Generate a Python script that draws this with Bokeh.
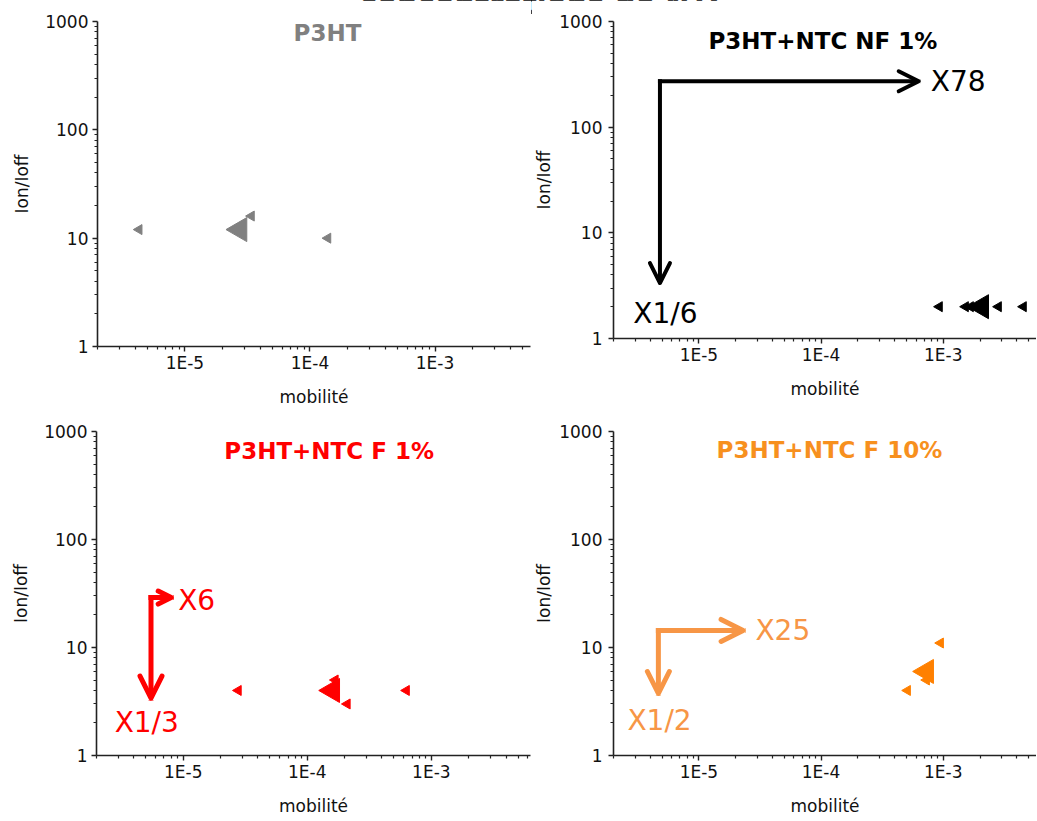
import numpy as np
from bokeh.plotting import figure
from bokeh.models import FixedTicker, Arrow, OpenHead, Label, Div, Range1d
from bokeh.layouts import row, column
from bokeh.embed import file_html
from bokeh.resources import INLINE

FONT = "DejaVu Sans"

# ---------------- data ----------------
main_title = "concentrations de NTC"
x_axis_title = "mobilité"
y_axis_title = "Ion/Ioff"
x_tick_values = [1e-5, 1e-4, 1e-3]
x_tick_labels = ["1E-5", "1E-4", "1E-3"]
y_tick_values = [1, 10, 100, 1000]
y_tick_labels = ["1", "10", "100", "1000"]

panel_titles = ["P3HT", "P3HT+NTC NF 1%", "P3HT+NTC F 1%", "P3HT+NTC F 10%"]

# P3HT
p3ht_mobility = [4.3e-6, 3.4e-5, 1.39e-4]
p3ht_ratio = [12, 16, 10]
p3ht_mean_mobility = [2.75e-5]
p3ht_mean_ratio = [12]

# P3HT+NTC NF 1%
nf1_mobility = [9.3e-4, 1.52e-3, 1.67e-3, 2.83e-3, 4.53e-3]
nf1_ratio = [2, 2, 2, 2, 2]
nf1_mean_mobility = [2.06e-3]
nf1_mean_ratio = [2]
nf1_factors = ["X78", "X1/6"]

# P3HT+NTC F 1%
f1_mobility = [2.78e-5, 1.68e-4, 2.1e-4, 6.3e-4]
f1_ratio = [4, 5, 3, 4]
f1_mean_mobility = [1.6e-4]
f1_mean_ratio = [4]
f1_factors = ["X6", "X1/3"]

# P3HT+NTC F 10%
f10_mobility = [5.1e-4, 7.3e-4, 9.5e-4]
f10_ratio = [4, 5, 11]
f10_mean_mobility = [7.3e-4]
f10_mean_ratio = [6]
f10_factors = ["X25", "X1/2"]

GRAY = "#808080"
BLACK = "#000000"
RED = "#FF0000"
ORANGE = "#FF8000"
ORANGE_TITLE = "#F7901E"
ORANGE_ARROW = "#F79646"


def make_panel(width, height, x_end, mb_left, mb_right, mb_top, mb_bottom,
               ylab_standoff, ytick_standoff):
    p = figure(width=width, height=height, x_axis_type="log", y_axis_type="log",
               x_range=Range1d(2e-6, x_end), y_range=Range1d(1, 1000),
               output_backend="svg", toolbar_location=None,
               min_border_left=mb_left, min_border_right=mb_right,
               min_border_top=mb_top, min_border_bottom=mb_bottom,
               background_fill_color="white", border_fill_color="white")
    p.frame_align = False
    p.outline_line_color = None
    p.xgrid.visible = False
    p.ygrid.visible = False

    x_minor = [m * 10.0 ** e for e in range(-6, -2) for m in range(2, 10)
               if 2e-6 <= m * 10.0 ** e <= x_end]
    y_minor = [m * 10.0 ** e for e in range(0, 3) for m in range(2, 10)]
    p.xaxis.ticker = FixedTicker(ticks=x_tick_values, minor_ticks=x_minor)
    p.yaxis.ticker = FixedTicker(ticks=y_tick_values, minor_ticks=y_minor)
    p.xaxis.major_label_overrides = dict(zip(x_tick_values, x_tick_labels))
    p.yaxis.major_label_overrides = dict(zip(y_tick_values, y_tick_labels))
    p.xaxis.axis_label = x_axis_title
    p.yaxis.axis_label = y_axis_title

    for ax in (p.xaxis[0], p.yaxis[0]):
        ax.axis_line_color = "#222222"
        ax.axis_line_width = 1.6
        ax.major_tick_line_color = "#222222"
        ax.major_tick_line_width = 1.4
        ax.minor_tick_line_color = "#222222"
        ax.minor_tick_line_width = 1.2
        ax.major_tick_out = 5
        ax.major_tick_in = 0
        ax.minor_tick_out = 3
        ax.minor_tick_in = 0
        ax.major_label_text_font = FONT
        ax.major_label_text_font_size = "17px"
        ax.major_label_text_color = "#111111"
        ax.axis_label_text_font = FONT
        ax.axis_label_text_font_size = "17px"
        ax.axis_label_text_font_style = "normal"
        ax.axis_label_text_color = "#111111"
    p.xaxis.major_label_standoff = 1
    p.xaxis.axis_label_standoff = 11
    p.yaxis.major_label_standoff = ytick_standoff
    p.yaxis.axis_label_standoff = ylab_standoff
    return p


def add_points(p, xs, ys, mx, my, color):
    p.scatter(xs, ys, marker="triangle", angle=np.pi / 2, size=10,
              fill_color=color, line_color=color)
    p.scatter(mx, my, marker="triangle", angle=np.pi / 2, size=24,
              fill_color=color, line_color=color)


def add_title(p, x, y, text, color):
    p.add_layout(Label(x=x, y=y, text=text, text_align="center", text_baseline="middle",
                       text_font=FONT, text_font_style="bold", text_font_size="23px",
                       text_color=color))


def add_arrow(p, x0, y0, x1, y1, color, lw, head):
    p.add_layout(Arrow(x_start=x0, y_start=y0, x_end=x1, y_end=y1,
                       line_color=color, line_width=lw, line_cap="square",
                       end=OpenHead(size=head, line_color=color, line_width=lw,
                                    line_cap="round", line_join="round")))


def add_text(p, x, y, text, color):
    p.add_layout(Label(x=x, y=y, text=text, text_align="left", text_baseline="middle",
                       text_font=FONT, text_font_size="28px", text_color=color))


# top-left: P3HT
p1 = make_panel(531, 412, 5.8e-3, 97, 1, 21, 66, 10, 4)
add_points(p1, p3ht_mobility, p3ht_ratio, p3ht_mean_mobility, p3ht_mean_ratio, GRAY)
add_title(p1, 1.38e-4, 790, panel_titles[0], GRAY)

# top-right: NF 1%
p2 = make_panel(505, 412, 5.8e-3, 81, 0, 21, 74, 2, 6)
add_points(p2, nf1_mobility, nf1_ratio, nf1_mean_mobility, nf1_mean_ratio, BLACK)
add_title(p2, 1.035e-4, 660, panel_titles[1], BLACK)
add_arrow(p2, 4.8e-6, 272, 6.3e-4, 272, BLACK, 4, 20)
add_arrow(p2, 4.8e-6, 272, 4.8e-6, 3.35, BLACK, 4, 20)
add_text(p2, 7.9e-4, 272, nf1_factors[0], BLACK)
add_text(p2, 2.9e-6, 1.72, nf1_factors[1], BLACK)

# bottom-left: F 1%
p3 = make_panel(531, 408, 6.3e-3, 96, 1, 19, 65, 10, 4)
add_points(p3, f1_mobility, f1_ratio, f1_mean_mobility, f1_mean_ratio, RED)
add_title(p3, 1.5e-4, 653, panel_titles[2], RED)
add_arrow(p3, 5.5e-6, 29, 5.5e-6, 3.4, RED, 5, 22)
add_arrow(p3, 5.5e-6, 29, 8.0e-6, 29, RED, 5, 13)
add_text(p3, 9.1e-6, 27, f1_factors[0], RED)
add_text(p3, 2.8e-6, 2.0, f1_factors[1], RED)

# bottom-right: F 10%
p4 = make_panel(505, 408, 5.8e-3, 80, 0, 19, 65, 2, 6)
add_points(p4, f10_mobility, f10_ratio, f10_mean_mobility, f10_mean_ratio, ORANGE)
add_title(p4, 1.17e-4, 681, panel_titles[3], ORANGE_TITLE)
add_arrow(p4, 4.66e-6, 14.4, 2.3e-5, 14.4, ORANGE_ARROW, 5, 22)
add_arrow(p4, 4.66e-6, 14.4, 4.66e-6, 3.75, ORANGE_ARROW, 5, 22)
add_text(p4, 2.9e-5, 14.3, f10_factors[0], ORANGE_ARROW)
add_text(p4, 2.6e-6, 2.1, f10_factors[1], ORANGE_ARROW)

title_div = Div(
    text=('<div style="font-family:\'DejaVu Sans\', sans-serif; font-weight:bold; '
          'font-size:29px; line-height:28px; white-space:nowrap; margin-left:360px; '
          'color:#000;"><b>' + main_title + '</b></div>'),
    width=1030, height=28, margin=(-10, 0, -18, 0))

layout = column(title_div, row(p1, p2), row(p3, p4))

with open("out.html", "w") as f:
    f.write(file_html(layout, INLINE, title="concentrations de NTC"))
